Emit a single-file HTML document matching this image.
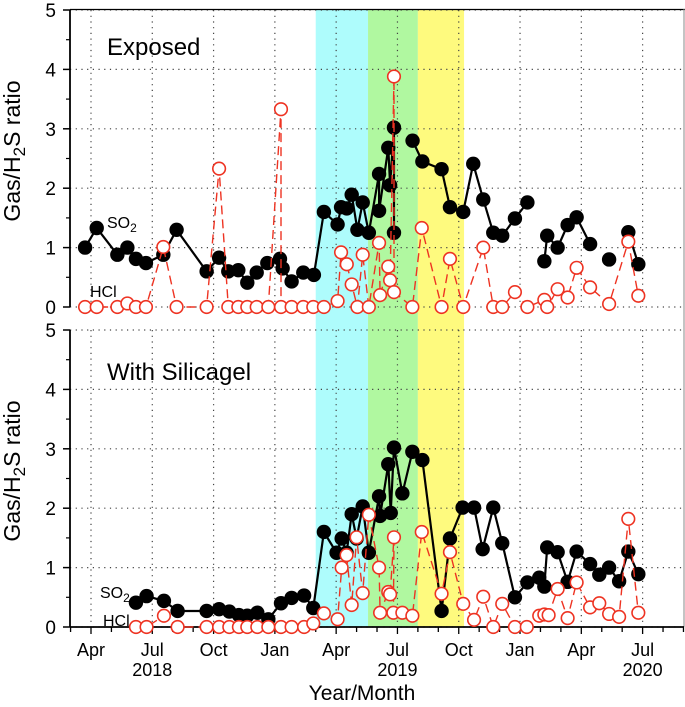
<!DOCTYPE html>
<html><head><meta charset="utf-8"><style>
html,body{margin:0;padding:0;background:#fff}
svg{display:block;font-family:"Liberation Sans",sans-serif}
</style></head><body>
<svg id="chart" width="685" height="707" viewBox="0 0 685 707">
<g id="bands"></g>
<g id="grid"></g>
<g id="axes"></g>
<g id="series"></g>
<text x="107" y="55" font-size="24">Exposed</text>
<text x="107" y="380" font-size="24">With Silicagel</text>
<text x="107" y="228" font-size="16">SO<tspan font-size="12" dy="4">2</tspan></text>
<text x="90" y="297" font-size="16">HCl</text>
<text x="100" y="598" font-size="16">SO<tspan font-size="12" dy="4">2</tspan></text>
<text x="103" y="626" font-size="16">HCl</text>
<text x="362" y="700" font-size="21" text-anchor="middle">Year/Month</text>
<text transform="translate(20,151) rotate(-90)" font-size="23" text-anchor="middle">Gas/H<tspan font-size="17" dy="5">2</tspan><tspan dy="-5">S ratio</tspan></text>
<text transform="translate(20,471) rotate(-90)" font-size="23" text-anchor="middle">Gas/H<tspan font-size="17" dy="5">2</tspan><tspan dy="-5">S ratio</tspan></text>
</svg>
<script>
// months since Jan 2018 (0 = Jan 1 2018)
const bandStarts=[14.0,16.56,19.0];
const bandEnds=[16.56,19.0,21.26];
const bandColors=["#aefcfc","#b0f8a0","#fefa7e"];
const quarterMonths=[3,6,9,12,15,18,21,24,27,30];
const quarterLabels=["Apr","Jul","Oct","Jan","Apr","Jul","Oct","Jan","Apr","Jul"];
const yearMonths=[6,18,30];
const yearLabels=["2018","2019","2020"];
const yTicks=[0,1,2,3,4,5];

const topSO2X=[2.71,3.28,4.29,4.78,5.2,5.69,6.54,7.19,8.66,9.27,9.72,10.21,10.65,11.11,11.63,12.25,12.38,12.82,13.39,13.91,14.4,15.07,15.24,15.52,15.76,16.04,16.3,16.6,17.1,17.1,17.55,17.64,17.83,17.83,null,18.74,19.22,20.16,20.57,21.22,21.71,22.2,22.69,23.13,23.75,24.36,null,25.19,25.33,25.84,26.33,26.77,27.43,null,28.36,null,29.3,29.79];
const topSO2Y=[1.0,1.33,0.88,1.0,0.81,0.74,0.88,1.3,0.6,0.83,0.6,0.62,0.41,0.58,0.74,0.81,0.65,0.43,0.58,0.54,1.6,1.39,1.68,1.66,1.89,1.3,1.76,1.25,2.24,1.62,2.68,2.05,3.02,1.25,null,2.8,2.45,2.32,1.68,1.6,2.41,1.81,1.25,1.2,1.49,1.76,null,0.77,1.2,1.0,1.38,1.51,1.06,null,0.8,null,1.26,0.72];
const topHClX=[2.71,3.28,4.29,4.78,5.2,5.69,6.54,7.19,8.66,9.27,9.72,10.21,10.65,11.11,11.68,12.3,12.3,12.82,13.39,13.88,14.4,15.07,15.24,15.52,15.76,16.04,16.3,16.6,17.1,17.15,17.55,17.64,17.83,17.83,18.73,19.19,20.16,20.57,21.22,22.2,22.69,23.13,23.75,24.36,25.19,25.33,25.84,26.33,26.77,27.43,28.36,29.3,29.79];
const topHClY=[0,0,0,0.06,0,0,1.01,0,0,2.33,0,0,0,0,0,3.33,0,0,0,0,0,0.1,0.92,0.72,0.38,0,0.88,0,1.08,0.2,0.68,0.45,3.88,0.25,0,1.33,0,0.81,0,1.0,0,0,0.25,0,0.12,0,0.3,0.16,0.66,0.33,0.05,1.1,0.19];
const botSO2X=[5.2,5.72,6.57,7.24,8.66,9.27,9.77,10.24,10.65,11.14,11.68,12.3,12.82,13.43,13.88,14.4,15.02,15.27,15.51,15.76,16.0,16.3,16.6,17.1,17.15,17.55,17.67,17.83,18.24,18.73,19.22,20.16,20.57,21.19,21.75,22.17,22.69,23.13,23.75,24.36,24.94,25.19,25.33,25.84,26.33,26.77,27.43,27.88,28.36,28.85,29.3,29.79];
const botSO2Y=[0.41,0.52,0.44,0.27,0.27,0.3,0.26,0.2,0.19,0.24,0.13,0.4,0.49,0.53,0.32,1.6,1.25,1.49,1.25,1.9,1.49,2.03,1.25,2.2,1.87,2.74,1.92,3.02,2.25,2.95,2.81,0.27,1.49,2.01,2.01,1.31,2.01,1.41,0.5,0.75,0.83,0.68,1.34,1.26,0.76,1.27,1.06,0.88,1.0,0.77,1.27,0.89];
const botHClX=[5.2,5.72,6.57,7.24,8.66,9.27,9.77,10.24,10.65,11.14,11.68,12.3,12.82,13.43,13.88,14.4,15.07,15.27,15.51,15.76,16.0,16.3,16.6,17.1,17.15,17.55,17.64,17.83,17.8,18.24,18.73,19.19,20.16,20.57,21.22,21.75,22.2,22.69,23.13,23.75,24.33,24.94,25.19,25.4,25.84,26.33,26.77,27.43,27.88,28.36,28.85,29.3,29.79];
const botHClY=[0,0,0.19,0,0,0,0,0,0,0,0,0,0,0,0.06,0.23,0.13,1.0,1.21,0.37,1.51,0.57,1.89,1.0,0.24,0.59,0.55,1.51,0.24,0.24,0.19,1.6,0.56,1.26,0.39,0.12,0.51,0,0.39,0,0,0.19,0.21,0.2,0.64,0.15,0.75,0.33,0.4,0.22,0.17,1.82,0.24];

const NS="http://www.w3.org/2000/svg";
const L=70,R=684;
const panels=[{y0:307,name:"top"},{y0:627,name:"bottom"}];
const PX=59.4;
function xs(m){return 91+(m-3)*20.43;}
function ys(v,p){return p.y0-v*PX;}
function mk(tag,parent,attrs){const e=document.createElementNS(NS,tag);for(const k in attrs)e.setAttribute(k,attrs[k]);parent.appendChild(e);return e;}
const gB=document.getElementById('bands'),gG=document.getElementById('grid'),gA=document.getElementById('axes'),gS=document.getElementById('series');

for(let i=0;i<bandStarts.length;i++){
  const r=mk('rect',gB,{x:xs(bandStarts[i]),y:10,width:xs(bandEnds[i])-xs(bandStarts[i]),height:617,fill:bandColors[i]});
  
  
}
panels.forEach(p=>{
  const top=p.y0-5*PX;
  yTicks.forEach(t=>{
    const y=ys(t,p);
    const gl=mk('line',gG,{x1:L,x2:R,y1:y,y2:y,stroke:'#444','stroke-width':1.2,'stroke-dasharray':'1.2 4.5'});
    
    
    const tk=mk('line',gA,{x1:L-7,x2:L,y1:y,y2:y,stroke:'#000','stroke-width':1.5});
    
    
    const tx=mk('text',gA,{x:L-14,y:y+7,'font-size':19,'text-anchor':'end'});
    tx.textContent=t;
    
    
    if(t<5){const m=mk('line',gA,{x1:L-4,x2:L,y1:ys(t+0.5,p),y2:ys(t+0.5,p),stroke:'#000','stroke-width':1.2});
      
      }
  });
  quarterMonths.forEach(q=>{
    const x=xs(q);
    const vl=mk('line',gG,{x1:x,x2:x,y1:top,y2:p.y0,stroke:'#444','stroke-width':1.2,'stroke-dasharray':'1.2 4.5'});
    
    
  });
  const sp=mk('line',gA,{x1:L,x2:L,y1:top,y2:p.y0,stroke:'#000','stroke-width':1.8});
  
  
});
const tb=mk('line',gA,{x1:L,x2:685,y1:9.5,y2:9.5,stroke:'#000','stroke-width':1.2});


const rb=mk('line',gA,{x1:684,x2:684,y1:9,y2:627,stroke:'#888','stroke-width':1});


const xa=mk('line',gA,{x1:L,x2:R,y1:627,y2:627,stroke:'#000','stroke-width':1.8});


for(let m=2;m<=32;m++){
  const isQ=quarterMonths.includes(m);
  const t=mk('line',gA,{x1:xs(m),x2:xs(m),y1:627,y2:627+(isQ?7:5),stroke:'#000','stroke-width':1.3});
  
  
}
quarterMonths.forEach((q,i)=>{
  const t=mk('text',gA,{x:xs(q),y:656,'font-size':18,'text-anchor':'middle'});
  t.textContent=quarterLabels[i];
  
  
});
yearMonths.forEach((q,i)=>{
  const t=mk('text',gA,{x:xs(q),y:676,'font-size':18,'text-anchor':'middle'});
  t.textContent=yearLabels[i];
  
  
});

function drawSeries(X,Y,p,filled,name){
  const g=mk('g',gS,{});
  
  
  let d='',pen=false;
  for(let i=0;i<X.length;i++){
    if(X[i]===null||Y[i]===null){pen=false;continue;}
    d+=(pen?'L':'M')+xs(X[i]).toFixed(1)+' '+ys(Y[i],p).toFixed(1)+' ';pen=true;
  }
  const path=mk('path',g,filled?{d:d,fill:'none',stroke:'#000','stroke-width':2.2}:{d:d,fill:'none',stroke:'#ee3322','stroke-width':1.4,'stroke-dasharray':'9 5'});
  
  
  for(let i=0;i<X.length;i++){
    if(X[i]===null||Y[i]===null)continue;
    const c=mk('circle',g,filled?{cx:xs(X[i]),cy:ys(Y[i],p),r:7.2,fill:'#000'}:{cx:xs(X[i]),cy:ys(Y[i],p),r:6.3,fill:'#fff',stroke:'#ee3322','stroke-width':1.6});
    
    
  }
}
drawSeries(topSO2X,topSO2Y,panels[0],true,'so2-exposed');
drawSeries(topHClX,topHClY,panels[0],false,'hcl-exposed');
drawSeries(botSO2X,botSO2Y,panels[1],true,'so2-silicagel');
drawSeries(botHClX,botHClY,panels[1],false,'hcl-silicagel');
</script>
</body></html>
